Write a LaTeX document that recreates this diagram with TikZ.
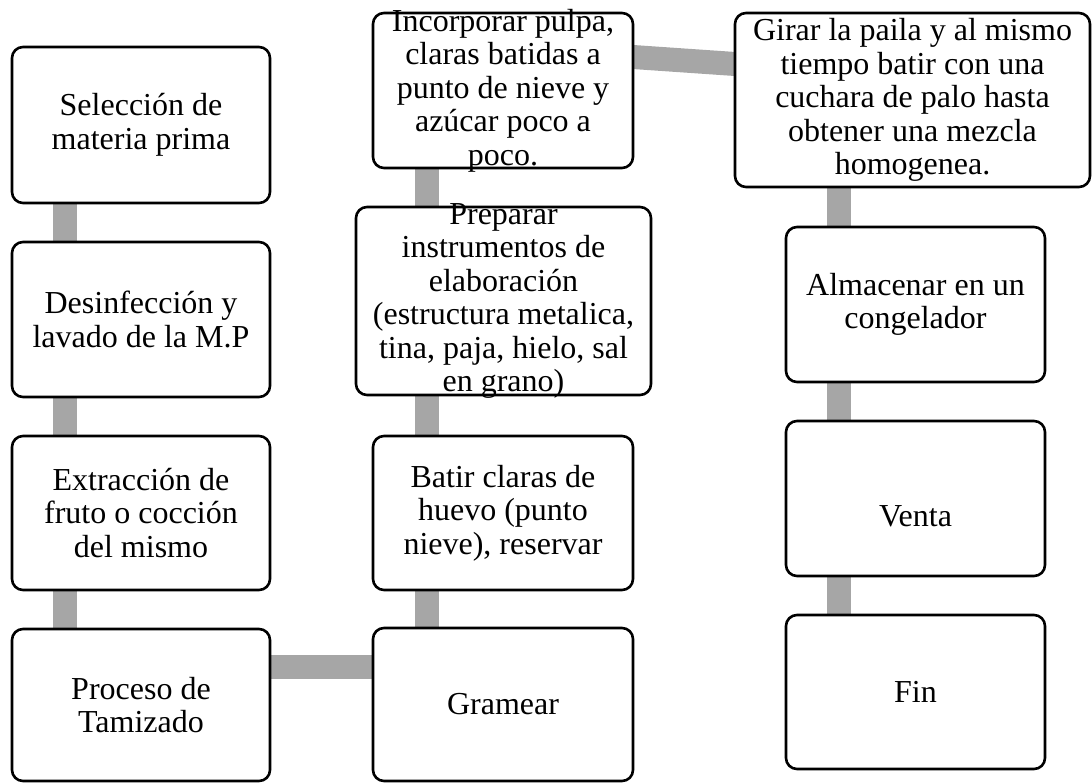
\documentclass[tikz,border=0pt]{standalone}
\usepackage{fontspec}
\setmainfont{Liberation Serif}
\usetikzlibrary{backgrounds}
\tikzset{
  box/.style={draw=black, line width=2.6pt, rounded corners=11pt, fill=white, inner sep=0pt, outer sep=0pt},
  txt/.style={align=center, inner sep=0pt, font=\fontsize{32}{33.5}\selectfont},
  conn/.style={draw={rgb,255:red,166;green,166;blue,166}, line width=24pt}
}
\newcommand{\mkbox}[6]{% name, x1, y1, x2, y2, text
  \node[box, minimum width={(#4-#2)*1pt}, minimum height={(#5-#3)*1pt}] (#1) at ({(#2+#4)/2},{(#3+#5)/2}) {};
  \node[txt] (#1t) at (#1) {#6};
}
\begin{document}
\begin{tikzpicture}[x=1pt,y=-1pt]
\useasboundingbox (0,0) rectangle (1092,783);
% column 1
\mkbox{b1}{12}{47}{270}{203}{Selección de\\materia prima}
\mkbox{b2}{12}{242}{270}{397}{Desinfección y\\lavado de la M.P}
\mkbox{b3}{12}{436}{270}{590}{Extracción de\\fruto o cocción\\del mismo}
\mkbox{b4}{12}{629}{270}{781}{Proceso de\\Tamizado}
% column 2
\mkbox{g}{373}{628}{633}{781}{Gramear}
\mkbox{bt}{373}{436}{633}{590}{Batir claras de\\huevo (punto\\nieve), reservar}
\mkbox{p}{356}{207}{651}{395}{Preparar\\instrumentos de\\elaboración\\(estructura metalica,\\tina, paja, hielo, sal\\en grano)}
\mkbox{i}{373}{13}{633}{168}{Incorporar pulpa,\\claras batidas a\\punto de nieve y\\azúcar poco a\\poco.}
% column 3
\mkbox{gi}{735}{13}{1090}{187}{Girar la paila y al mismo\\tiempo batir con una\\cuchara de palo hasta\\obtener una mezcla\\homogenea.}
\mkbox{a}{786}{227}{1045}{382}{Almacenar en un\\congelador}
\node[box, minimum width=259pt, minimum height=155pt] (v) at (915.5,498.5) {};
\node[txt] (vt) at ([yshift=-18pt]v.center) {Venta};
\mkbox{f}{786}{615}{1045}{769}{Fin}
% connectors
\begin{scope}[on background layer]
\draw[conn] ([xshift=53pt]b1.south west) -- ([xshift=53pt]b2.north west);
\draw[conn] ([xshift=53pt]b2.south west) -- ([xshift=53pt]b3.north west);
\draw[conn] ([xshift=53pt]b3.south west) -- ([xshift=53pt]b4.north west);
\draw[conn] ([yshift=-38pt]b4.north east) -- ([yshift=-38pt]b4.north east -| g.west);
\draw[conn] ([xshift=54pt]g.north west) -- ([xshift=54pt]g.north west |- bt.south);
\draw[conn] ([xshift=54pt]bt.north west) -- ([xshift=54pt]bt.north west |- p.south);
\draw[conn] ([xshift=54pt]i.south west) -- ([xshift=54pt]i.south west |- p.north);
\draw[conn] ([yshift=-44pt]i.north east) -- ([yshift=-51pt]gi.north west);
\draw[conn] ([xshift=53pt]a.north west) -- ([xshift=53pt]a.north west |- gi.south);
\draw[conn] ([xshift=53pt]a.south west) -- ([xshift=53pt]v.north west);
\draw[conn] ([xshift=53pt]v.south west) -- ([xshift=53pt]f.north west);
\end{scope}
\end{tikzpicture}
\end{document}
